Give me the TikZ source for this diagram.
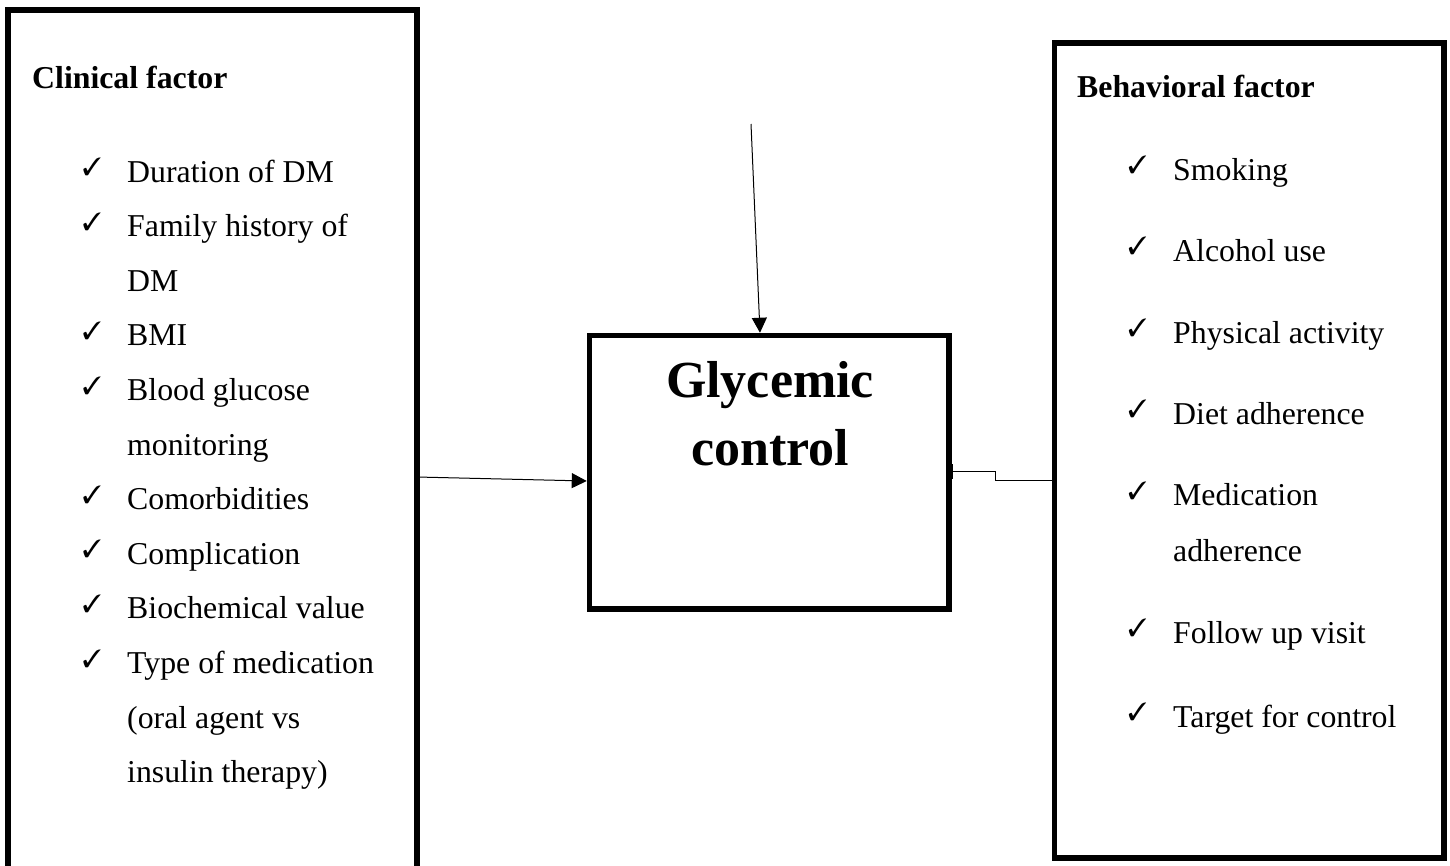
\documentclass[tikz,border=0pt]{standalone}
\usepackage{fontspec}
\setmainfont{Liberation Serif}
\usepackage{pifont}
\usetikzlibrary{arrows.meta}
\begin{document}
\begin{tikzpicture}[x=1pt,y=-1pt,
  frame/.style={draw=black,line width=5.5pt},
  itemtxt/.style={anchor=base west,inner sep=0pt,font=\fontsize{31.8}{36}\selectfont},
  headtxt/.style={anchor=base west,inner sep=0pt,font=\fontsize{31.8}{36}\selectfont\bfseries},
  chk/.style={anchor=center,inner sep=0pt,font=\fontsize{25}{30}\selectfont},
  conn/.style={draw=black,line width=1pt},
  arr/.style={conn,-{Triangle[length=15pt,width=15pt]}},
]
\useasboundingbox (0,0) rectangle (1450,865);
\clip (0,0) rectangle (1450,865);
% boxes
\draw[frame] (8,10) rectangle (417,900);
\coordinate (L) at (417,477);
\draw[frame] (589.5,335.5) rectangle (949,609);
\node[inner sep=0pt,outer sep=2.75pt,minimum width=359.5pt,minimum height=273.5pt] (G) at (769.25,472.25) {};
\draw[frame] (1054.5,43) rectangle (1444,858);
\coordinate (R) at (1052,480);
% title of centre box
\node[anchor=base,inner sep=0pt,font=\fontsize{52}{60}\selectfont\bfseries] (g1) at (770,397) {Glycemic};
\node[anchor=base,inner sep=0pt,font=\fontsize{52}{60}\selectfont\bfseries] (g2) at (770,465) {control};
% left list
\node[headtxt] (lh) at (32,88) {Clinical factor};
\foreach \y/\t/\c [count=\i] in {
  182/Duration of DM/1,
  236.6/Family history of/1,
  291.2/DM/0,
  345.8/BMI/1,
  400.4/Blood glucose/1,
  455/monitoring/0,
  509.6/Comorbidities/1,
  564.2/Complication/1,
  618.8/Biochemical value/1,
  673.4/Type of medication/1,
  728/(oral agent vs/0,
  782.6/insulin therapy)/0}{
  \node[itemtxt] (l\i) at (127,\y) {\t};
  \ifnum\c=1 \node[chk] (lc\i) at (92,\y-15) {\ding{51}};\fi
}
% right list
\node[headtxt] (rh) at (1077,97) {Behavioral factor};
\foreach \y/\t/\c [count=\i] in {
  180/Smoking/1,
  261/Alcohol use/1,
  343/Physical activity/1,
  424/Diet adherence/1,
  505.5/Medication/1,
  561/adherence/0,
  643/Follow up visit/1,
  727/Target for control/1}{
  \node[itemtxt] (r\i) at (1173,\y) {\t};
  \ifnum\c=1 \node[chk] (rc\i) at (1137.5,\y-15) {\ding{51}};\fi
}
% connectors
\coordinate (top) at (751,124);
\draw[arr] (top) -- (G.north -| 760,0);
\draw[arr] (L) -- (G.west |- 0,481);
\draw[conn,-{Bar[width=15pt]}] (R) -- (995,480) -- (995,471) -- (G.east |- 0,471);
\end{tikzpicture}
\end{document}
